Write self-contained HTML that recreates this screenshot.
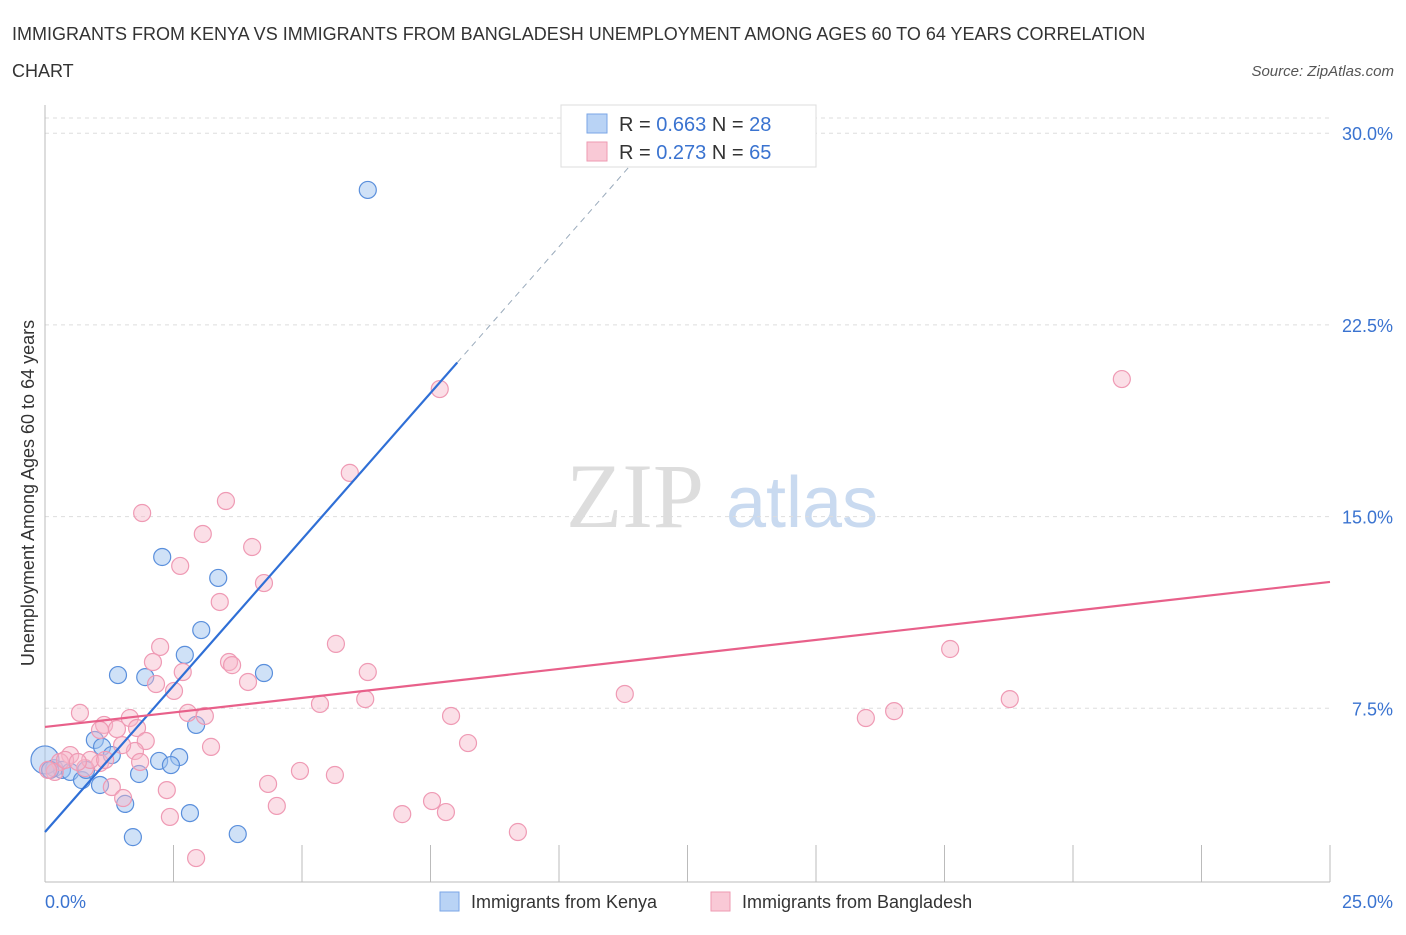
<!DOCTYPE html>
<html><head><meta charset="utf-8"><style>
body{margin:0;background:#fff;font-family:"Liberation Sans",sans-serif;}
</style></head><body>
<svg width="1406" height="930" xmlns="http://www.w3.org/2000/svg">
<text x="12" y="40" font-size="18" fill="#333">IMMIGRANTS FROM KENYA VS IMMIGRANTS FROM BANGLADESH UNEMPLOYMENT AMONG AGES 60 TO 64 YEARS CORRELATION</text>
<text x="12" y="77" font-size="18" fill="#333">CHART</text>
<text x="1394" y="76" font-size="15" fill="#555" font-style="italic" text-anchor="end">Source: ZipAtlas.com</text>
<text x="635" y="527" font-size="92" fill="#ddd" font-family="Liberation Serif,serif" text-anchor="middle">ZIP</text>
<text x="802" y="527" font-size="72" fill="#c9daf0" text-anchor="middle">atlas</text>
<g id="grid"></g><g id="axes"></g><g id="pts"></g><g id="lines"></g>
<text transform="translate(34,493) rotate(-90)" font-size="18" fill="#333" text-anchor="middle">Unemployment Among Ages 60 to 64 years</text>
<text x="45" y="908" font-size="18" fill="#3a73d0">0.0%</text>
<text x="1393" y="908" font-size="18" fill="#3a73d0" text-anchor="end">25.0%</text>
<g>
<rect x="440" y="892" width="19" height="19" fill="#b9d3f5" stroke="#7aa6e6"/>
<text x="471" y="908" font-size="18" fill="#333">Immigrants from Kenya</text>
<rect x="711" y="892" width="19" height="19" fill="#f9c9d6" stroke="#ee9ab2"/>
<text x="742" y="908" font-size="18" fill="#333">Immigrants from Bangladesh</text>
</g>
<g>
<rect x="561" y="105" width="255" height="62" fill="#fff" stroke="#ddd"/>
<rect x="587" y="114" width="20" height="19" fill="#b9d3f5" stroke="#7aa6e6"/>
<rect x="587" y="142" width="20" height="19" fill="#f9c9d6" stroke="#ee9ab2"/>
<text x="619" y="131" font-size="20" fill="#333">R = <tspan fill="#3a73d0">0.663</tspan>   N = <tspan fill="#3a73d0">28</tspan></text>
<text x="619" y="159" font-size="20" fill="#333">R = <tspan fill="#3a73d0">0.273</tspan>   N = <tspan fill="#3a73d0">65</tspan></text>
</g>
</svg>
<script>
const yTicks=[7.5,15,22.5,30];
const yTickLabels=["7.5%","15.0%","22.5%","30.0%"];
const xTicks=[0,2.5,5,7.5,10,12.5,15,17.5,20,22.5,25];
const kenyaX=[6.28,2.28,3.37,3.04,2.72,4.26,1.42,1.95,0.97,1.11,1.30,2.94,2.61,2.22,2.45,1.83,0.18,0.33,0.49,0.72,1.07,1.56,2.82,3.75,1.71,0,0.8,0.1];
const kenyaY=[27.78,13.42,12.60,10.56,9.59,8.88,8.80,8.72,6.26,5.99,5.67,6.85,5.59,5.44,5.28,4.93,5.16,5.09,5.01,4.69,4.50,3.76,3.40,2.58,2.46,5.48,5.09,5.09];
const bangX=[20.95,7.68,5.93,3.52,1.89,3.07,4.03,2.63,4.26,3.40,2.24,2.10,2.68,3.58,3.64,5.66,6.28,2.16,2.51,3.95,6.23,5.35,0.68,2.78,3.11,1.65,1.15,1.40,1.79,1.07,7.90,11.28,15.97,16.52,18.77,17.61,1.96,3.23,8.23,1.75,1.50,0.49,0.29,1.07,0.78,4.34,4.96,5.64,1.30,2.37,1.52,4.51,6.95,7.53,7.80,2.43,9.20,2.94,0.19,0.39,0.06,0.88,0.64,1.85,1.17];
const bangY=[20.38,19.99,16.71,15.61,15.14,14.32,13.81,13.07,12.40,11.66,9.90,9.31,8.92,9.31,9.19,10.02,8.92,8.45,8.18,8.53,7.86,7.67,7.32,7.32,7.20,7.12,6.85,6.69,6.73,6.65,7.20,8.06,7.12,7.39,7.86,9.82,6.22,5.99,6.14,5.83,6.06,5.67,5.40,5.36,5.16,4.54,5.05,4.89,4.42,4.30,3.99,3.68,3.36,3.87,3.44,3.25,2.66,1.64,5.01,5.48,5.09,5.48,5.40,5.40,5.48];
const kenyaTrend=[2.66,2.29]; // intercept, slope
const bangTrend=[6.77,0.227];
const X=v=>45+v*51.4, Y=v=>900-v*25.56;
const NS="http://www.w3.org/2000/svg";
function mk(tag,attrs,parent){const e=document.createElementNS(NS,tag);for(const k in attrs)e.setAttribute(k,attrs[k]);document.getElementById(parent).appendChild(e);return e;}
yTicks.forEach((t,i)=>{
 const l=mk('line',{x1:45,x2:1330,y1:Y(t),y2:Y(t),stroke:'#ddd','stroke-dasharray':'4,4'},'grid');
 
 
 const tx=mk('text',{x:1393,y:Y(t)+7,'font-size':18,fill:'#3a73d0','text-anchor':'end'},'grid');
 tx.textContent=yTickLabels[i];
 
 
});
const t0=mk('line',{x1:45,x2:1330,y1:118,y2:118,stroke:'#ddd','stroke-dasharray':'4,4'},'grid');


const ya=mk('line',{x1:45,x2:45,y1:105,y2:882,stroke:'#bbb'},'axes');


const xa=mk('line',{x1:45,x2:1330,y1:882,y2:882,stroke:'#bbb'},'axes');


xTicks.forEach(t=>{
 const l=mk('line',{x1:X(t),x2:X(t),y1:845,y2:882,stroke:'#bbb'},'axes');
 
 
});
kenyaX.forEach((v,i)=>{
 const c=mk('circle',{cx:X(v),cy:Y(kenyaY[i]),r:(v===0?14:8.5),fill:'rgba(160,196,240,0.5)',stroke:'#5a8fdc','stroke-width':1.2},'pts');
 
 
});
bangX.forEach((v,i)=>{
 const c=mk('circle',{cx:X(v),cy:Y(bangY[i]),r:8.5,fill:'rgba(247,183,202,0.45)',stroke:'#ef9ab4','stroke-width':1.2},'pts');
 
 
});
const kEnd=8.02, kDash=(30.6-kenyaTrend[0])/kenyaTrend[1];
const kl=mk('line',{x1:X(0),y1:Y(kenyaTrend[0]),x2:X(kEnd),y2:Y(kenyaTrend[0]+kenyaTrend[1]*kEnd),stroke:'#2f6fd6','stroke-width':2.2},'lines');


const kd=mk('line',{x1:X(kEnd),y1:Y(kenyaTrend[0]+kenyaTrend[1]*kEnd),x2:X(kDash),y2:Y(kenyaTrend[0]+kenyaTrend[1]*kDash),stroke:'#9ab','stroke-width':1,'stroke-dasharray':'6,5'},'lines');


const bl=mk('line',{x1:X(0),y1:Y(bangTrend[0]),x2:X(25),y2:Y(bangTrend[0]+bangTrend[1]*25),stroke:'#e8608a','stroke-width':2.2},'lines');


</script>
</body></html>
